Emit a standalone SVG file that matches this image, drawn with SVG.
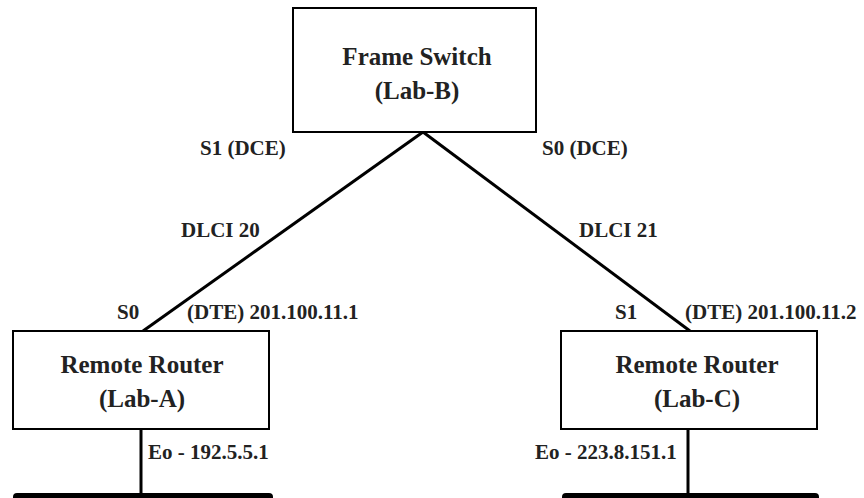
<svg xmlns="http://www.w3.org/2000/svg" width="864" height="498" viewBox="0 0 864 498">
<style>
.box{fill:#fff;stroke:#000;stroke-width:2}
.title{font-weight:bold;font-size:25px;fill:#222;text-anchor:middle}
.lbl{font-weight:bold;font-size:21px;fill:#222}
.link{stroke:#000;stroke-width:3;fill:none}
.bus{fill:#000}
</style>
<rect width="864" height="498" fill="#fff"/>
<g id="connectors">
<line class="link" x1="423" y1="132" x2="143" y2="331"/>
<line class="link" x1="423" y1="132" x2="690" y2="331"/>
<line class="link" x1="141" y1="429" x2="141" y2="495"/>
<line class="link" x1="688" y1="429" x2="688" y2="495"/>
</g>
<g font-family="Liberation Serif, DejaVu Serif, serif">
<g id="frame-switch">
<rect class="box" x="293" y="8" width="243" height="124"/>
<text class="title" x="417" y="65">Frame Switch</text>
<text class="title" x="417" y="99">(Lab-B)</text>
</g>
<g id="router-a">
<rect class="box" x="13" y="331" width="256" height="98"/>
<text class="title" x="142" y="373">Remote Router</text>
<text class="title" x="142" y="407">(Lab-A)</text>
</g>
<g id="router-c">
<rect class="box" x="561" y="331" width="256" height="98"/>
<text class="title" x="697" y="373">Remote Router</text>
<text class="title" x="697" y="407">(Lab-C)</text>
</g>
<g id="lan-a">
<rect class="bus" x="13" y="493" width="260" height="14" rx="4"/>
</g>
<g id="lan-c">
<rect class="bus" x="562" y="493" width="257" height="14" rx="4"/>
</g>
<g id="labels">
<text class="lbl" x="200" y="155">S1 (DCE)</text>
<text class="lbl" x="542" y="155">S0 (DCE)</text>
<text class="lbl" x="181" y="237">DLCI 20</text>
<text class="lbl" x="579" y="237">DLCI 21</text>
<text class="lbl" x="117" y="319">S0</text>
<text class="lbl" x="187" y="319">(DTE) 201.100.11.1</text>
<text class="lbl" x="615" y="319">S1</text>
<text class="lbl" x="685" y="319">(DTE) 201.100.11.2</text>
<text class="lbl" x="148" y="459">Eo - 192.5.5.1</text>
<text class="lbl" x="535" y="459">Eo - 223.8.151.1</text>
</g>
</g>
</svg>
